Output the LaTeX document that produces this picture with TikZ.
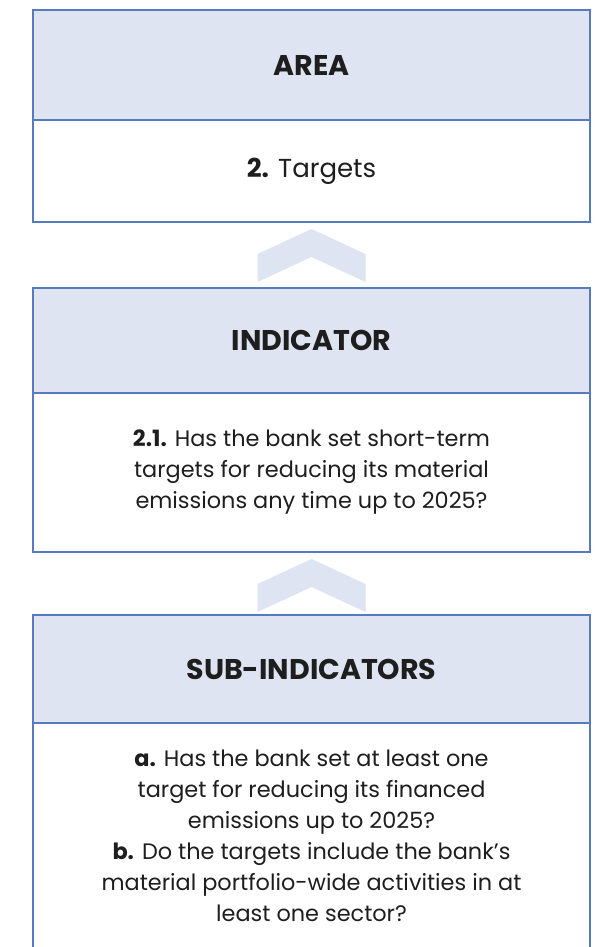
\documentclass[tikz,border=0pt]{standalone}
\usepackage{fontspec}
\setmainfont{Poppins}
\usetikzlibrary{positioning,calc}
\definecolor{boxblue}{RGB}{88,122,190}
\definecolor{headfill}{RGB}{222,228,241}
\definecolor{inktext}{RGB}{30,30,30}

\tikzset{
  headbox/.style={draw=boxblue, line width=2.6pt, fill=headfill, minimum width=557pt,
    inner sep=0pt, outer sep=0pt, text=inktext, font=\bfseries\fontsize{28.5}{32}\selectfont},
  bodybox/.style={draw=boxblue, line width=2.6pt, fill=white, minimum width=557pt,
    inner sep=0pt, outer sep=0pt, align=center, text=inktext, font=\fontsize{22.4}{31}\selectfont},
  chevron/.style={fill=headfill}
}

\begin{document}
\begin{tikzpicture}[x=1pt,y=-1pt]
    \useasboundingbox (0,0) rectangle (594,947);
    \clip (0,0) rectangle (594,947);

    % Area
    \node[headbox, minimum height=110pt, anchor=north] (areahead) at (311.5,10) {AREA};
    \node[bodybox, minimum height=102pt, below=0pt of areahead, font=\fontsize{26}{31}\selectfont] (areabody) {\textbf{2.} Targets};

    % Indicator
    \node[headbox, minimum height=105pt, below=66pt of areabody] (indhead) {INDICATOR};
    \node[bodybox, minimum height=159pt, below=0pt of indhead] (indbody)
        {\textbf{2.1.} Has the bank set short-term\\targets for reducing its material\\emissions any time up to 2025?};

    % Sub-indicators (box runs off the page)
    \node[headbox, minimum height=108pt, below=63pt of indbody] (subhead) {SUB-INDICATORS};
    \node[bodybox, minimum height=226pt, below=0pt of subhead] (subbody)
        {\textbf{a.} Has the bank set at least one\\target for reducing its financed\\emissions up to 2025?\\
         \textbf{b.} Do the targets include the bank’s\\material portfolio-wide activities in at\\least one sector?};

    % chevrons between the boxes
    \foreach \a in {areabody,indbody}
        \fill[chevron] ($(\a.south)+(0,7)$) -- ++(54,25) -- ++(0,28) -- ++(-54,-25)
            -- ++(-54,25) -- ++(0,-28) -- cycle;
\end{tikzpicture}
\end{document}
